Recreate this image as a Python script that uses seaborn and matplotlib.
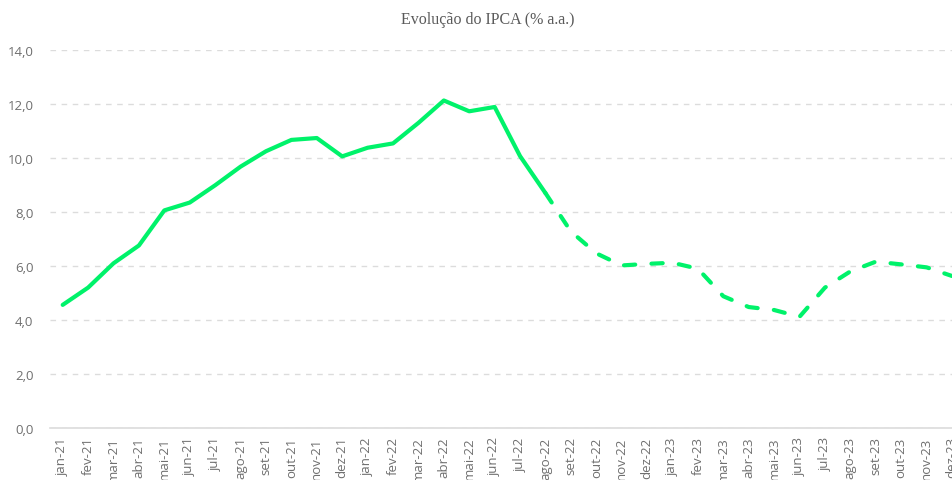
import matplotlib
matplotlib.use("Agg")
import matplotlib.pyplot as plt
import seaborn as sns
import pandas as pd

# Meses do eixo x
meses = ["jan-21", "fev-21", "mar-21", "abr-21", "mai-21", "jun-21", "jul-21", "ago-21",
         "set-21", "out-21", "nov-21", "dez-21", "jan-22", "fev-22", "mar-22", "abr-22",
         "mai-22", "jun-22", "jul-22", "ago-22", "set-22", "out-22", "nov-22", "dez-22",
         "jan-23", "fev-23", "mar-23", "abr-23", "mai-23", "jun-23", "jul-23", "ago-23",
         "set-23", "out-23", "nov-23", "dez-23"]

# IPCA acumulado 12 meses (% a.a.)
ipca = [4.56, 5.20, 6.10, 6.76, 8.06, 8.35, 8.99, 9.68,
        10.25, 10.67, 10.74, 10.06, 10.38, 10.54, 11.30, 12.13,
        11.73, 11.89, 10.07, 8.70, 7.28, 6.47, 6.02, 6.08,
        6.12, 5.90, 4.88, 4.48, 4.37, 4.12, 5.20, 5.80,
        6.16, 6.06, 5.95, 5.63]

# último mês realizado (ago-22); depois disso é projeção
ultimo_realizado = "ago-22"
y_ticks = [0, 2, 4, 6, 8, 10, 12, 14]

df = pd.DataFrame({"mes": meses, "ipca": ipca})
df["pos"] = range(len(df))
corte = meses.index(ultimo_realizado)
realizado = df[df["pos"] <= corte]
projecao = df[df["pos"] >= corte]

verde = "#00F26A"
cinza = "#6f6f6f"

sns.set_style("white")
plt.rcParams["font.family"] = ["Open Sans", "DejaVu Sans"]

fig = plt.figure(figsize=(9.52, 4.81), dpi=100)
ax = fig.add_axes([50 / 952, 52 / 481, 902 / 952, 378 / 481])

sns.lineplot(data=realizado, x="pos", y="ipca", ax=ax, color=verde, linewidth=3,
             solid_capstyle="round")
sns.lineplot(data=projecao, x="pos", y="ipca", ax=ax, color=verde, linewidth=3,
             dashes=False, linestyle=(0, (2.7, 3.9)), dash_capstyle="round")

ax.set_xlim(-0.5, 35.0)
ax.set_ylim(0, 14)
ax.set_yticks(y_ticks)
ax.set_yticklabels([f"{v:.1f}".replace(".", ",") for v in y_ticks])
ax.set_xticks(df["pos"])
ax.set_xticklabels(meses, rotation=90, va="top", ha="center")

ax.grid(axis="y", color="#dcdcdc", linestyle=(0, (4, 4)), linewidth=1)
ax.set_axisbelow(True)
for s in ["top", "right", "left"]:
    ax.spines[s].set_visible(False)
ax.spines["bottom"].set_color("#dcdcdc")
ax.spines["bottom"].set_linewidth(1.2)
ax.tick_params(axis="both", length=0, labelsize=9.5, labelcolor=cinza)
ax.tick_params(axis="y", pad=12)
ax.tick_params(axis="x", pad=6)
ax.set_xlabel("")
ax.set_ylabel("")

fig.text(488 / 952, 1 - 20 / 481, "Evolução do IPCA (% a.a.)", ha="center", va="center",
         fontsize=11.5, color="#5a5a5a", family=["Liberation Serif", "DejaVu Serif"])

fig.savefig("out.png", dpi=100)
